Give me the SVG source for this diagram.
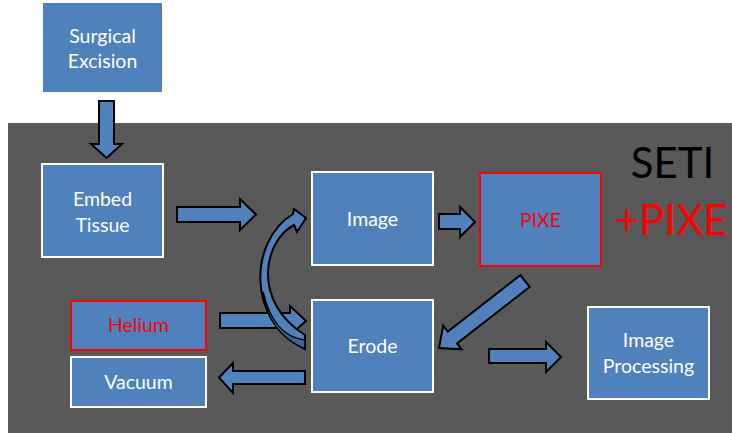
<svg xmlns="http://www.w3.org/2000/svg" width="732" height="433" viewBox="0 0 732 433">
<style>
.box{fill:#4F81BD;stroke:#FFFFFF;stroke-width:2}
.red{stroke:#FF0000}
.nb{stroke:none}
.t{font-family:Lato,"Open Sans","Liberation Sans",sans-serif;font-size:19.5px;fill:#FFFFFF;text-anchor:middle}
.tr{fill:#FF0000}
.arr{fill:#4F81BD;stroke:#000000;stroke-width:2;stroke-linejoin:miter}
.big{font-family:Lato,"Open Sans","Liberation Sans",sans-serif;font-size:42px;text-anchor:middle}
</style>
<rect x="0" y="0" width="732" height="433" fill="#FFFFFF"/>
<rect x="8" y="123" width="724" height="310" fill="#595959"/>
<g id="connectors">
<path class="arr" d="M99,101 H114 V144 H122 L106.5,158 L91,144 H99 Z"/>
<path class="arr" d="M177,207 H240 V199 L256,214.5 L240,230 V222 H177 Z"/>
<path class="arr" d="M439,214 H460 V207 L475,222 L460,237 V229 H439 Z"/>
<path class="arr" d="M220,313 H290 V306 L306,321 L290,335 V328 H220 Z"/>
<path class="arr" d="M305,371 H233 V363 L219,377.5 L233,393 V384 H305 Z"/>
<path class="arr" d="M489,349 H546 V342 L561,357 L546,372 V363 H489 Z"/>
<path class="arr" transform="translate(525,281) rotate(142.1)" d="M0,-7.5 L92,-7.5 L92,-15 L109,0 L92,15 L92,7.5 L0,7.5 Z"/>
<path class="arr" d="M305,349 C245,320 250,240 293,214 L294,209 L306,218 L297,232 L294,225 C265,240 250,300 305,335 Z"/>
<path d="M263,292 C270,322 285,338 305,340 L305,349 C280,338 266,318 263,292 Z" fill="#3E6597" stroke="#000000" stroke-width="1.5"/>
</g>
<g id="surgical">
<rect class="box nb" x="43" y="3" width="119" height="89"/>
<text class="t" x="102.5" y="43">Surgical</text>
<text class="t" x="102.5" y="68">Excision</text>
</g>
<g id="embed">
<rect class="box" x="42" y="164" width="121" height="93"/>
<text class="t" x="102.5" y="206">Embed</text>
<text class="t" x="102.5" y="232">Tissue</text>
</g>
<g id="image">
<rect class="box" x="312" y="172" width="121" height="93"/>
<text class="t" x="372.5" y="226">Image</text>
</g>
<g id="pixe">
<rect class="box red" x="480" y="173" width="121" height="93"/>
<text class="t tr" x="540.5" y="227" font-size="17.5">PIXE</text>
</g>
<g id="erode">
<rect class="box" x="312" y="300" width="121" height="92"/>
<text class="t" x="372.5" y="353">Erode</text>
</g>
<g id="helium">
<rect class="box red" x="71" y="301" width="135" height="49"/>
<text class="t tr" x="138.5" y="332">Helium</text>
</g>
<g id="vacuum">
<rect class="box" x="71" y="357" width="135" height="50"/>
<text class="t" x="138.5" y="389">Vacuum</text>
</g>
<g id="imageproc">
<rect class="box" x="588" y="307" width="121" height="92"/>
<text class="t" x="648.5" y="347">Image</text>
<text class="t" x="648.5" y="373">Processing</text>
</g>
<g id="title">
<text class="big" x="672.5" y="178" fill="#000000">SETI</text>
<text class="big" x="671" y="235" fill="#FF0000" font-size="39">+PIXE</text>
</g>
</svg>
